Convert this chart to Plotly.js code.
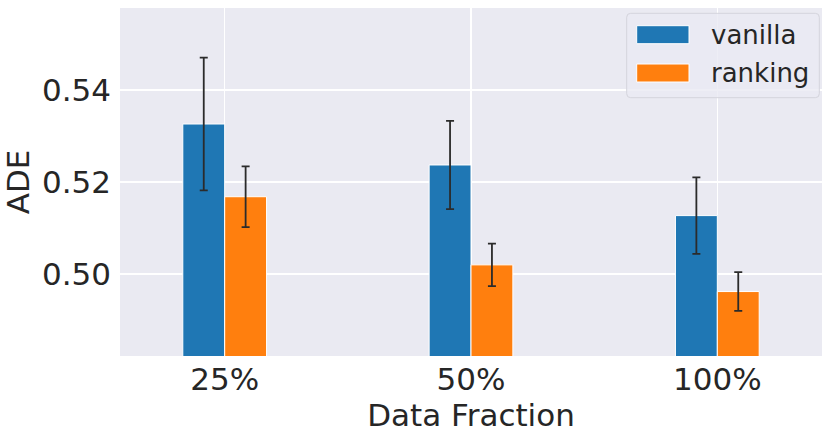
<!DOCTYPE html>
<html>
<head>
<meta charset="utf-8">
<title>ADE by data fraction</title>
<script src="https://cdn.plot.ly/plotly-3.0.1.min.js"></script>
<style>
  body { margin: 0; background: #fff; }
  #chart { width: 830px; height: 437px; }
</style>
</head>
<body>
<div id="chart"></div>
<script>
// values
var fractions = ["25%", "50%", "100%"];
var vanillaADE = [0.5326, 0.5237, 0.5127];
var vanillaErr = [0.0144, 0.0096, 0.0083];
var rankingADE = [0.5168, 0.5020, 0.4962];
var rankingErr = [0.0066, 0.0046, 0.0042];
var seriesNames = ["vanilla", "ranking"];
var seriesColours = ["#1f77b4", "#ff7f0e"];

var ink = "#262626";
var font = "DejaVu Sans, Liberation Sans, sans-serif";

function barTrace(name, values, errs, colour) {
  return {
    type: "bar",
    name: name,
    x: fractions,
    y: values,
    marker: { color: colour, line: { color: "#ffffff", width: 1 } },
    error_y: { type: "data", array: errs, visible: true,
               color: "#2b2b2b", thickness: 1.8, width: 4 },
    hoverinfo: "x+y"
  };
}

var data = [
  barTrace(seriesNames[0], vanillaADE, vanillaErr, seriesColours[0]),
  barTrace(seriesNames[1], rankingADE, rankingErr, seriesColours[1])
];

// hand-made legend (matplotlib style: long swatches, rounded frame)
// frame in pixels inside the plot area (702 x 348)
var fx0 = 506.7, fx1 = 699.3, fy0 = 5.3, fy1 = 89.7, rad = 4;
function px(v) { return v / 702; }
function py(v) { return 1 - v / 348; }
var framePath =
  "M" + px(fx0 + rad) + "," + py(fy0) +
  " L" + px(fx1 - rad) + "," + py(fy0) +
  " Q" + px(fx1) + "," + py(fy0) + " " + px(fx1) + "," + py(fy0 + rad) +
  " L" + px(fx1) + "," + py(fy1 - rad) +
  " Q" + px(fx1) + "," + py(fy1) + " " + px(fx1 - rad) + "," + py(fy1) +
  " L" + px(fx0 + rad) + "," + py(fy1) +
  " Q" + px(fx0) + "," + py(fy1) + " " + px(fx0) + "," + py(fy1 - rad) +
  " L" + px(fx0) + "," + py(fy0 + rad) +
  " Q" + px(fx0) + "," + py(fy0) + " " + px(fx0 + rad) + "," + py(fy0) + " Z";

var shapes = [
  { type: "path", xref: "paper", yref: "paper", path: framePath,
    fillcolor: "rgba(234,234,242,0.8)", line: { color: "#d4d4dc", width: 1 }, layer: "above" }
];
var annotations = [];
var rowsPx = [26.7, 65.0];
for (var i = 0; i < seriesNames.length; i++) {
  shapes.push({ type: "rect", xref: "paper", yref: "paper",
    x0: px(516.7), x1: px(569), y0: py(rowsPx[i] + 9), y1: py(rowsPx[i] - 9),
    fillcolor: seriesColours[i], line: { color: "#ffffff", width: 1 }, layer: "above" });
  annotations.push({ xref: "paper", yref: "paper", x: px(589), y: py(rowsPx[i]),
    xanchor: "left", yanchor: "middle", showarrow: false, text: seriesNames[i],
    font: { family: font, size: 26, color: ink } });
}

var layout = {
  width: 830, height: 437,
  margin: { l: 120, r: 8, t: 8, b: 81 },
  paper_bgcolor: "#ffffff",
  plot_bgcolor: "#eaeaf2",
  font: { family: font, color: ink, size: 31 },
  barmode: "group",
  bargap: 0.66,
  bargroupgap: 0,
  showlegend: false,
  xaxis: {
    type: "category",
    range: [-0.425, 2.425],
    showgrid: true, gridcolor: "#ffffff", gridwidth: 1.5,
    ticks: "", showline: false, zeroline: false,
    tickfont: { size: 31 },
    ticklabelstandoff: 2,
    title: { text: "Data Fraction", font: { size: 31 }, standoff: 3 }
  },
  yaxis: {
    range: [0.4822, 0.5578],
    tickvals: [0.50, 0.52, 0.54],
    ticktext: ["0.50", "0.52", "0.54"],
    showgrid: true, gridcolor: "#ffffff", gridwidth: 1.5,
    ticks: "", showline: false, zeroline: false,
    tickfont: { size: 31 },
    ticklabelstandoff: 8,
    title: { text: "ADE", font: { size: 31 }, standoff: 8 }
  },
  shapes: shapes,
  annotations: annotations
};

Plotly.newPlot("chart", data, layout, { displayModeBar: false, staticPlot: true });
</script>
</body>
</html>
